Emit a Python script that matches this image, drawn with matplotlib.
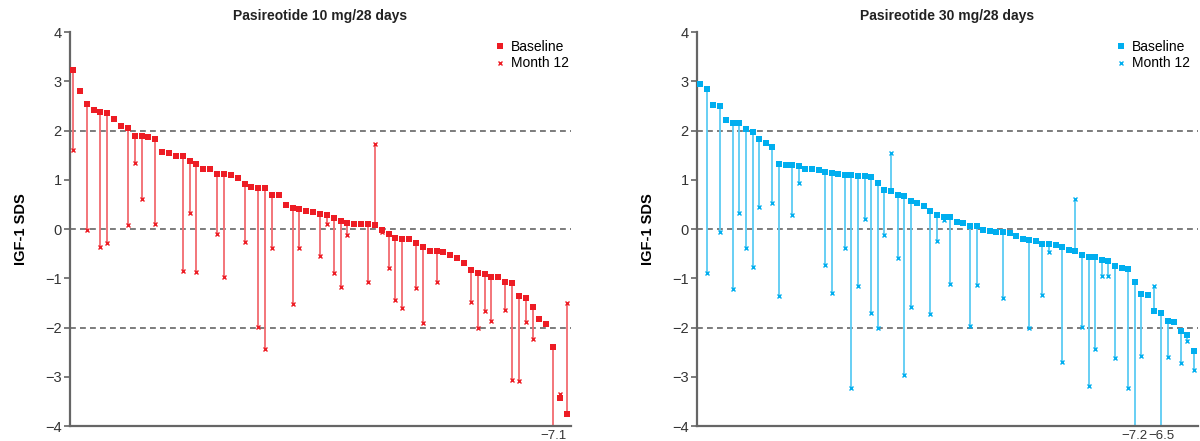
import numpy as np
from matplotlib import pyplot as plt

plt.rcParams['font.family'] = ['Liberation Sans', 'DejaVu Sans']

nan = np.nan

# IGF-1 SDS, patients sorted by baseline value
baseline_10 = [3.22, 2.80, 2.54, 2.41, 2.38, 2.35, 2.23, 2.09, 2.05, 1.88,
               1.88, 1.86, 1.82, 1.56, 1.54, 1.49, 1.48, 1.39, 1.32, 1.22,
               1.22, 1.12, 1.12, 1.09, 1.04, 0.91, 0.86, 0.84, 0.84, 0.70,
               0.70, 0.48, 0.43, 0.41, 0.37, 0.34, 0.31, 0.29, 0.22, 0.16,
               0.13, 0.11, 0.11, 0.11, 0.09, -0.03, -0.11, -0.18, -0.20, -0.20,
               -0.28, -0.36, -0.44, -0.44, -0.47, -0.53, -0.58, -0.69, -0.83, -0.90,
               -0.92, -0.97, -0.97, -1.08, -1.10, -1.37, -1.41, -1.59, -1.82, -1.93,
               -2.39, -3.44, -3.76]
month12_10 = [1.61, nan, -0.01, nan, -0.37, -0.28, nan, nan, 0.09, 1.34,
              0.61, nan, 0.10, nan, nan, nan, -0.86, 0.32, -0.88, nan,
              nan, -0.11, -0.98, nan, nan, -0.27, nan, -1.99, -2.44, -0.39,
              nan, nan, -1.52, -0.39, nan, nan, -0.54, 0.11, -0.89, -1.17,
              -0.12, nan, nan, -1.08, 1.73, -0.06, -0.80, -1.44, -1.60, nan,
              -1.20, -1.91, nan, -1.08, nan, nan, nan, nan, -1.49, -2.02,
              -1.66, -1.87, nan, -1.64, -3.06, -3.09, -1.89, -2.23, nan, nan,
              -7.1, -3.35, -1.51]

baseline_30 = [2.94, 2.85, 2.52, 2.50, 2.22, 2.16, 2.16, 2.04, 1.97, 1.82,
               1.74, 1.66, 1.32, 1.29, 1.29, 1.27, 1.21, 1.21, 1.19, 1.16,
               1.14, 1.12, 1.10, 1.10, 1.07, 1.07, 1.05, 0.93, 0.79, 0.77,
               0.70, 0.68, 0.56, 0.52, 0.46, 0.37, 0.28, 0.25, 0.25, 0.14,
               0.12, 0.07, 0.07, -0.02, -0.04, -0.06, -0.06, -0.09, -0.15, -0.20,
               -0.22, -0.24, -0.30, -0.30, -0.32, -0.37, -0.42, -0.45, -0.53, -0.57,
               -0.57, -0.62, -0.65, -0.76, -0.80, -0.82, -1.07, -1.32, -1.34, -1.66,
               -1.71, -1.86, -1.88, -2.07, -2.16, -2.47]
month12_30 = [nan, -0.89, nan, -0.07, nan, -1.22, 0.32, -0.39, -0.78, 0.44,
              nan, 0.53, -1.36, nan, 0.28, 0.93, nan, nan, nan, -0.74,
              -1.30, nan, -0.38, -3.22, -1.16, 0.20, -1.71, -2.01, -0.12, 1.55,
              -0.58, -2.96, -1.58, nan, nan, -1.73, -0.24, 0.19, -1.12, nan,
              nan, -1.97, -1.13, nan, nan, nan, -1.41, nan, nan, nan,
              -2.00, nan, -1.34, -0.47, nan, -2.70, nan, 0.60, -1.99, -3.18,
              -2.44, -0.95, -0.95, -2.61, nan, -3.23, -7.2, -2.57, nan, -1.16,
              -6.5, -2.59, nan, -2.72, -2.28, -2.86]

titles = ['Pasireotide 10 mg/28 days', 'Pasireotide 30 mg/28 days']
colors = ['#ED1C24', '#00AEEF']
line_colors = ['#F26A70', '#5CCBF3']
y_ticks = [-4, -3, -2, -1, 0, 1, 2, 3, 4]
y_tick_labels = ['\u22124', '\u22123', '\u22122', '\u22121', '0', '1', '2', '3', '4']

fig = plt.figure(figsize=(12, 4.41), dpi=100)
ax_list = [fig.add_axes([0.0583, 0.034, 0.4175, 0.8934]),
           fig.add_axes([0.5808, 0.034, 0.4175, 0.8934])]
data = [(baseline_10, month12_10), (baseline_30, month12_30)]
legend_x = [1.013, 1.0]

for k in range(2):
    ax = ax_list[k]
    base = np.array(data[k][0])
    m12 = np.array(data[k][1])
    x = np.arange(len(base))

    for yl in [2, 0, -2]:
        ax.axhline(yl, color='#666666', lw=1.2, ls=(0, (3.5, 2.5)), zorder=1)

    ok = ~np.isnan(m12)
    ax.vlines(x[ok], base[ok], m12[ok], color=line_colors[k], lw=1.3, zorder=2)
    ax.plot(x, m12, 'x', color=colors[k], ms=3.5, mew=1.0, zorder=3, label='Month 12')
    ax.plot(x, base, 's', color=colors[k], ms=5, mew=0, zorder=4, label='Baseline')

    ax.set_ylim(-4, 4)
    ax.set_xlim(-0.45, len(base) - 0.4)
    ax.set_yticks(y_ticks)
    ax.set_yticklabels(y_tick_labels)
    ax.tick_params(axis='y', length=4, width=1.2, color='#666666', labelsize=10.5,
                   labelcolor='#333333', pad=2)

    # off-scale month 12 values shown as labels under the axis
    off = np.where(m12 < -4)[0]
    ax.set_xticks(off)
    ax.set_xticklabels(['\u2212%.1f' % abs(m12[i]) for i in off])
    ax.tick_params(axis='x', length=0, labelsize=9.5, labelcolor='#333333', pad=3)

    for side in ['top', 'right']:
        ax.spines[side].set_visible(False)
    for side in ['left', 'bottom']:
        ax.spines[side].set_color('#666666')
        ax.spines[side].set_linewidth(1.6)

    ax.set_ylabel('IGF-1 SDS', fontsize=10.5, fontweight='bold', labelpad=12)
    ax.set_title(titles[k], fontsize=10, fontweight='bold', color='#222222', pad=9)

    h, l = ax.get_legend_handles_labels()
    ax.legend(h[::-1], l[::-1], loc='upper right', frameon=False, fontsize=10,
              handlelength=0.6, handletextpad=0.5, labelspacing=0.15,
              borderaxespad=0.2, bbox_to_anchor=(legend_x[k], 1.0))

fig.savefig('out.png', dpi=100)
